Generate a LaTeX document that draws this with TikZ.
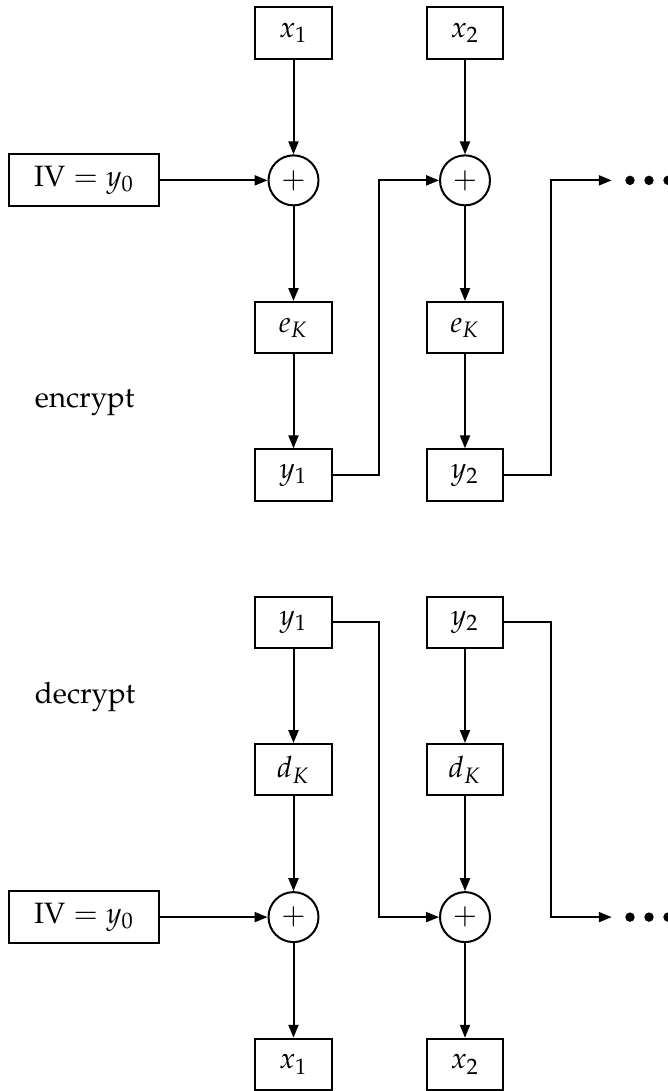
\documentclass[tikz,border=0pt]{standalone}
\usepackage[T1]{fontenc}
\usepackage{mathpazo}
\usetikzlibrary{arrows.meta}
\begin{document}
\begin{tikzpicture}[x=0.3401pt,y=-0.3401pt,
  line width=0.68pt,
  blk/.style={draw, line width=0.68pt, minimum width=26pt, minimum height=17.5pt, inner sep=0pt},
  ivblk/.style={blk, minimum width=51pt, minimum height=17.7pt},
  xorn/.style={draw, circle, line width=0.68pt, minimum size=17pt, inner sep=0pt},
  arr/.style={-{Triangle[length=4.4pt,width=3.4pt]}},
  lbl/.style={anchor=base west, inner sep=0pt},
  dotf/.style={fill=black}
]
\fill[white] (0,0) rectangle (668,1091);
\useasboundingbox (0,0) rectangle (668,1091);

% ---------- encrypt ----------
\node[blk] (ex1) at (293.5,33) {$x_1$};
\node[blk] (ex2) at (465,33) {$x_2$};
\node[ivblk] (eiv) at (84.3,180.35) {$\mathrm{IV} = y_0$};
\node[xorn] (ec1) at (293.5,180.35) {$+$};
\node[xorn] (ec2) at (465,180.35) {$+$};
\node[blk] (ek1) at (293.5,327.7) {$e_K$};
\node[blk] (ek2) at (465,327.7) {$e_K$};
\node[blk] (ey1) at (293.5,475.05) {$y_1$};
\node[blk] (ey2) at (465,475.05) {$y_2$};
\node[lbl] (enc) at (34,407.5) {encrypt};
\coordinate (ef1) at (379.25,475.05);
\coordinate (ef2) at (550.75,475.05);
\coordinate (eend) at (611.7,180.35);

\draw[arr] (ex1) -- (ec1);
\draw[arr] (ex2) -- (ec2);
\draw[arr] (eiv) -- (ec1);
\draw[arr] (ec1) -- (ek1);
\draw[arr] (ec2) -- (ek2);
\draw[arr] (ek1) -- (ey1);
\draw[arr] (ek2) -- (ey2);
\draw[arr] (ey1.east) -- (ef1) |- (ec2.west);
\draw[arr] (ey2.east) -- (ef2) |- (eend);
\fill[dotf] (630,180.35) circle (4.7);
\fill[dotf] (649,180.35) circle (4.7);
\fill[dotf] (668,180.35) circle (4.7);

% ---------- decrypt ----------
\node[blk] (dy1) at (293.5,622.4) {$y_1$};
\node[blk] (dy2) at (465,622.4) {$y_2$};
\node[blk] (dk1) at (293.5,769.75) {$d_K$};
\node[blk] (dk2) at (465,769.75) {$d_K$};
\node[ivblk] (div) at (84.3,917.1) {$\mathrm{IV} = y_0$};
\node[xorn] (dc1) at (293.5,917.1) {$+$};
\node[xorn] (dc2) at (465,917.1) {$+$};
\node[blk] (dx1) at (293.5,1064.45) {$x_1$};
\node[blk] (dx2) at (465,1064.45) {$x_2$};
\node[lbl] (dec) at (34,703.3) {decrypt};
\coordinate (df1) at (379.25,622.4);
\coordinate (df2) at (550.75,622.4);
\coordinate (dend) at (611.7,917.1);

\draw[arr] (dy1) -- (dk1);
\draw[arr] (dy2) -- (dk2);
\draw[arr] (dk1) -- (dc1);
\draw[arr] (dk2) -- (dc2);
\draw[arr] (div) -- (dc1);
\draw[arr] (dc1) -- (dx1);
\draw[arr] (dc2) -- (dx2);
\draw[arr] (dy1.east) -- (df1) |- (dc2.west);
\draw[arr] (dy2.east) -- (df2) |- (dend);
\fill[dotf] (630,917.1) circle (4.7);
\fill[dotf] (649,917.1) circle (4.7);
\fill[dotf] (668,917.1) circle (4.7);
\end{tikzpicture}
\end{document}
